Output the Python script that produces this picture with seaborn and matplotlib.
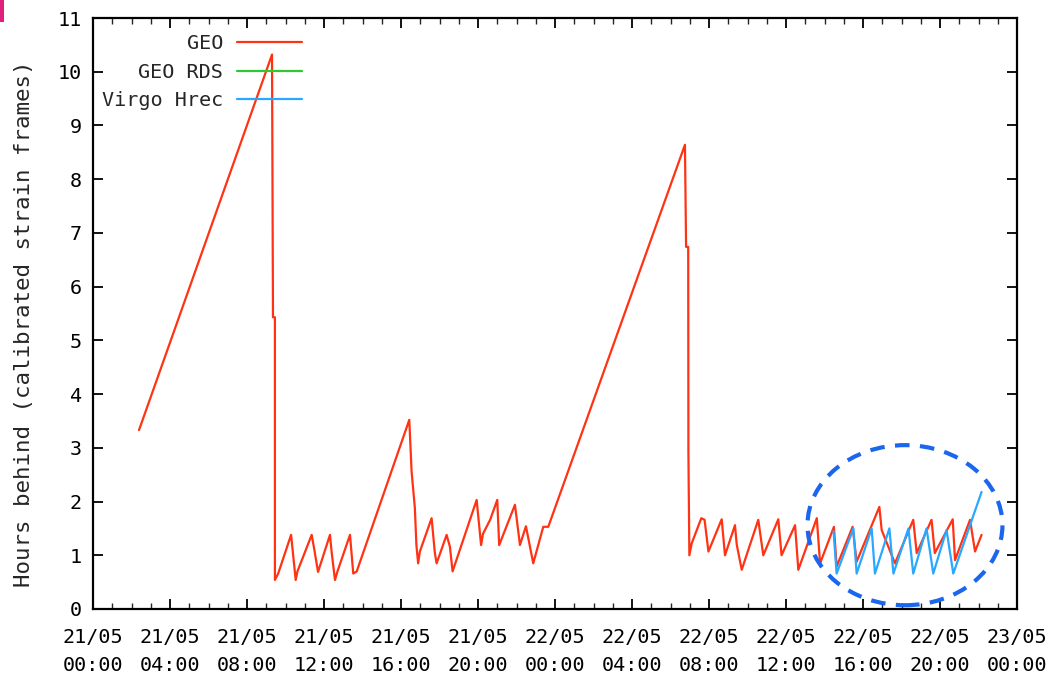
import numpy as np
import pandas as pd
import matplotlib
matplotlib.use("Agg")
import matplotlib.pyplot as plt
from matplotlib.patches import Ellipse, Rectangle
from matplotlib.ticker import MultipleLocator
import seaborn as sns

# ---- data (hours since 21/05 00:00, hours behind) ----
geo_hours = [2.39, 9.30, 9.35, 9.45, 9.45, 9.62, 10.29, 10.37, 10.53, 10.62, 11.36, 11.50, 11.69,
             12.31, 12.40, 12.57, 12.70, 13.35, 13.52, 13.70, 16.43, 16.55, 16.72, 16.80, 16.89,
             16.98, 17.59, 17.76, 17.85, 18.37, 18.54, 18.68, 19.93, 20.16, 20.26, 20.63, 21.00,
             21.10, 21.92, 22.18, 22.49, 22.70, 22.87, 23.39, 23.65, 30.75, 30.81, 30.92, 30.93,
             30.98, 31.10, 31.60, 31.77, 31.97, 32.66, 32.83, 33.35, 33.44, 33.70, 34.56, 34.82,
             35.60, 35.77, 36.47, 36.64, 37.60, 37.77, 38.49, 38.63, 39.46, 39.67, 40.85, 40.97,
             41.66, 42.61, 42.79, 43.56, 43.73, 44.66, 44.78, 45.56, 45.82, 46.16]
geo_values = [3.33, 10.32, 5.43, 5.43, 0.54, 0.66, 1.38, 1.10, 0.54, 0.70, 1.38, 1.10, 0.69,
              1.38, 1.05, 0.54, 0.70, 1.38, 0.66, 0.70, 3.52, 2.56, 1.88, 1.19, 0.85,
              1.07, 1.69, 1.04, 0.85, 1.38, 1.16, 0.70, 2.03, 1.19, 1.40, 1.66, 2.03,
              1.19, 1.94, 1.19, 1.54, 1.16, 0.85, 1.53, 1.53, 8.64, 6.74, 6.74, 2.93,
              1.00, 1.22, 1.69, 1.66, 1.07, 1.67, 1.00, 1.56, 1.20, 0.73, 1.66, 1.00,
              1.67, 1.00, 1.56, 0.73, 1.69, 0.85, 1.53, 0.79, 1.53, 0.88, 1.90, 1.47,
              0.85, 1.66, 1.04, 1.66, 1.04, 1.67, 0.91, 1.66, 1.07, 1.38]

geo_rds_hours = []
geo_rds_values = []

virgo_hours = [38.47, 38.63, 39.50, 39.67, 40.45, 40.62, 41.37, 41.58, 42.36, 42.61,
               43.30, 43.65, 44.34, 44.69, 46.16]
virgo_values = [1.45, 0.66, 1.50, 0.66, 1.50, 0.66, 1.50, 0.66, 1.50, 0.66,
                1.50, 0.66, 1.47, 0.66, 2.18]

x_tick_hours = [0, 4, 8, 12, 16, 20, 24, 28, 32, 36, 40, 44, 48]
x_tick_labels = ["21/05\n00:00", "21/05\n04:00", "21/05\n08:00", "21/05\n12:00",
                 "21/05\n16:00", "21/05\n20:00", "22/05\n00:00", "22/05\n04:00",
                 "22/05\n08:00", "22/05\n12:00", "22/05\n16:00", "22/05\n20:00",
                 "23/05\n00:00"]
y_ticks = list(range(0, 12))

series_names = ["GEO", "GEO RDS", "Virgo Hrec"]
series_colors = ["#ff3314", "#2fc82f", "#2aa8ff"]

# ---- figure ----
sns.set_style("ticks")
plt.rcParams["font.family"] = ["DejaVu Sans Mono", "DejaVu Sans"]

fig = plt.figure(figsize=(10.46, 6.73), dpi=100)
ax = fig.add_axes([93/1046, 1 - 609/673, (1017-93)/1046, (609-18)/673])

all_series = [(geo_hours, geo_values), (geo_rds_hours, geo_rds_values), (virgo_hours, virgo_values)]
for (hx, hy), name, col in zip(all_series, series_names, series_colors):
    df = pd.DataFrame({"t": pd.Series(hx, dtype=float), "v": pd.Series(hy, dtype=float)})
    if len(df):
        sns.lineplot(data=df, x="t", y="v", ax=ax, color=col, lw=1.6,
                     estimator=None, sort=False, label=name)
    else:
        ax.plot([], [], color=col, lw=1.6, label=name)

ax.set_xlim(0, 48)
ax.set_ylim(0, 11)
ax.set_xticks(x_tick_hours)
ax.set_xticklabels(x_tick_labels, fontsize=14.5, linespacing=1.55)
ax.xaxis.set_minor_locator(MultipleLocator(1))
ax.set_yticks(y_ticks)
ax.set_yticklabels([str(v) for v in y_ticks], fontsize=14.5)
ax.set_xlabel("")
ax.set_ylabel("Hours behind (calibrated strain frames)", fontsize=16.2)
ax.yaxis.set_label_coords(-0.064, 0.482)

ax.tick_params(axis="both", which="major", direction="in", length=7, width=1.3,
               top=True, right=True, colors="black")
ax.tick_params(axis="x", which="minor", direction="in", length=4, width=1.0, top=True)
ax.tick_params(axis="x", which="major", pad=14)
ax.tick_params(axis="y", which="major", pad=8)
for s in ax.spines.values():
    s.set_visible(True)
    s.set_linewidth(1.6)
    s.set_color("black")

leg = ax.legend(loc="upper right", bbox_to_anchor=(0.226, 0.973), frameon=False,
                markerfirst=False, fontsize=14.5, handlelength=3.2, handletextpad=0.7,
                labelspacing=0.48, borderpad=0, borderaxespad=0)

# annotation ellipse highlighting the Virgo region
ell = Ellipse((42.18, 1.56), 10.13, 2.98, fill=False, edgecolor="#1a66ee", lw=3,
              linestyle=(0, (3.5, 2.5)), clip_on=False, zorder=5)
ax.add_patch(ell)

# small magenta mark at top-left corner
fig.patches.append(Rectangle((0, 1 - 22/673), 4/1046, 22/673, transform=fig.transFigure,
                             facecolor="#e0207a", edgecolor="none"))

fig.savefig("out.png", dpi=100)
